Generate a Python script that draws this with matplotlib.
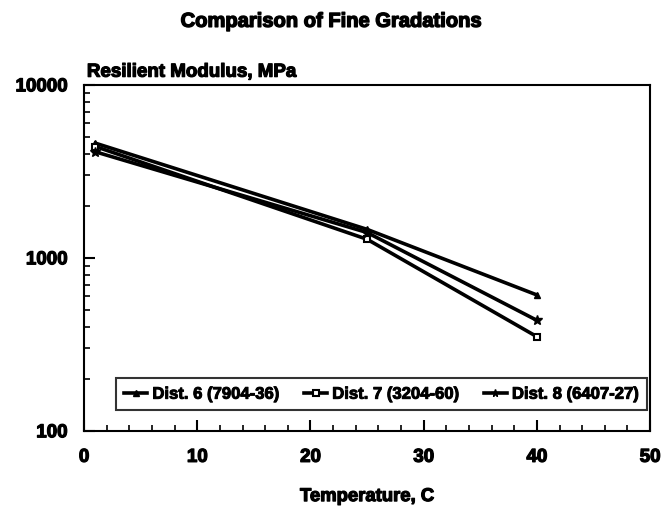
import matplotlib
matplotlib.use("Agg")
import matplotlib.pyplot as plt
import matplotlib.patheffects as pe
from matplotlib.ticker import MultipleLocator, LogLocator, NullFormatter, FixedLocator

plt.rcParams['font.family'] = ['Liberation Sans', 'DejaVu Sans']
plt.rcParams['font.weight'] = 'bold'

temperature = [1, 25, 40]
dist6 = [4600, 1460, 610]
dist7 = [4400, 1280, 350]
dist8 = [4100, 1400, 435]
labels = ["Dist. 6 (7904-36)", "Dist. 7 (3204-60)", "Dist. 8 (6407-27)"]

heavy = [pe.withStroke(linewidth=0.9, foreground='black')]

fig = plt.figure(figsize=(6.62, 5.08), dpi=100)
ax = fig.add_axes([0.127, 0.152, 0.855, 0.681])

ax.plot(temperature, dist6, color='black', lw=2.6, marker='^', ms=5, label=labels[0])
ax.plot(temperature, dist7, color='black', lw=2.6, marker='s', ms=5,
        mfc='white', mew=1.5, label=labels[1])
ax.plot(temperature, dist8, color='black', lw=2.6, marker='*', ms=7, label=labels[2])

ax.set_yscale('log')
ax.set_xlim(0, 50)
ax.set_ylim(100, 10000)
ax.xaxis.set_major_locator(MultipleLocator(10))
ax.xaxis.set_minor_locator(MultipleLocator(2))
ax.yaxis.set_major_locator(FixedLocator([100, 1000, 10000]))
ax.yaxis.set_minor_locator(LogLocator(base=10, subs=range(2, 10)))
ax.yaxis.set_minor_formatter(NullFormatter())
ax.set_yticklabels(['100', '1000', '10000'])

ax.tick_params(axis='both', which='major', direction='in', length=8, width=1.5,
               labelsize=13.5)
ax.tick_params(axis='x', which='major', pad=13)
ax.tick_params(axis='y', which='major', pad=12)
ax.tick_params(axis='both', which='minor', direction='in', length=4, width=1.2)
ax.tick_params(top=False, right=False)
for s in ax.spines.values():
    s.set_linewidth(1.5)
for lab in ax.get_xticklabels() + ax.get_yticklabels():
    lab.set_fontweight('bold')
    lab.set_path_effects(heavy)

xl = ax.set_xlabel("Temperature, C", fontsize=13.3, fontweight='bold', labelpad=16)
xl.set_path_effects(heavy)
yl = ax.text(0.005, 1.012, "Resilient Modulus, MPa", transform=ax.transAxes,
             fontsize=13.5, fontweight='bold', ha='left', va='bottom')
yl.set_path_effects(heavy)
tt = fig.text(0.5, 0.958, "Comparison of Fine Gradations", ha='center', va='center',
              fontsize=14.5, fontweight='bold')
tt.set_path_effects([pe.withStroke(linewidth=1.0, foreground='black')])

leg = ax.legend(loc='lower center', bbox_to_anchor=(0.525, 0.06), ncol=3,
                frameon=True, fancybox=False, edgecolor='black', fontsize=12,
                handlelength=1.4, handletextpad=0.3, columnspacing=1.5,
                borderpad=0.5, borderaxespad=0.0, markerscale=0.8)
leg.get_frame().set_linewidth(1.5)
for t in leg.get_texts():
    t.set_fontweight('bold')
    t.set_path_effects([pe.withStroke(linewidth=0.7, foreground='black')])

fig.savefig("out.png", dpi=100)
